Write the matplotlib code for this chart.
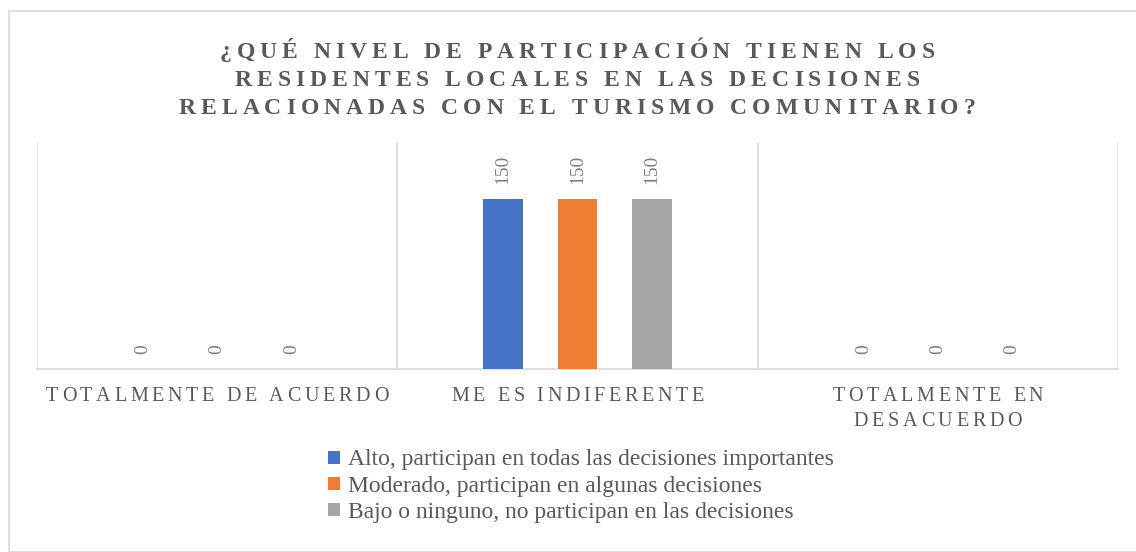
import matplotlib
matplotlib.use("Agg")
import matplotlib.pyplot as plt
from matplotlib.patches import Rectangle
from matplotlib.font_manager import FontProperties
import numpy as np

plt.rcParams['font.family'] = ['Liberation Serif', 'DejaVu Serif']

title_lines = ["¿QUÉ NIVEL DE PARTICIPACIÓN TIENEN LOS",
               "RESIDENTES LOCALES EN LAS DECISIONES",
               "RELACIONADAS CON EL TURISMO COMUNITARIO?"]
categories = ["TOTALMENTE DE ACUERDO", "ME ES INDIFERENTE", "TOTALMENTE EN\nDESACUERDO"]
series_names = ["Alto, participan en todas las decisiones importantes",
                "Moderado, participan en algunas decisiones",
                "Bajo o ninguno, no participan en las decisiones"]
alto = [0, 150, 0]
moderado = [0, 150, 0]
bajo = [0, 150, 0]
colors = ["#4472C4", "#ED7D31", "#A5A5A5"]

W, H = 1136, 552
fig = plt.figure(figsize=(W / 100, H / 100), dpi=100)
fig.patch.set_facecolor("white")
fig.patches.append(Rectangle((9 / W, 0), (W - 9) / W + 0.01, (H - 11) / H,
                             transform=fig.transFigure, fill=False,
                             edgecolor="#D9D9D9", linewidth=1.2))
renderer = fig.canvas.get_renderer()
text_color = "#595959"


def spaced_text(s, xc_px, base_px, size, spacing_px, weight="normal"):
    """Draw letter-spaced text centred at xc_px with baseline at base_px (pixels from top)."""
    fp = FontProperties(family="Liberation Serif", size=size, weight=weight)
    widths = [renderer.get_text_width_height_descent(c, fp, ismath=False)[0] for c in s]
    total = sum(widths) + spacing_px * (len(s) - 1)
    xp = xc_px - total / 2
    for c, w in zip(s, widths):
        fig.text(xp / W, 1 - base_px / H, c, fontproperties=fp, ha="left",
                 va="baseline", color=text_color)
        xp += w + spacing_px


ax = fig.add_axes([37 / W, 1 - 369 / H, (1118 - 37) / W, (369 - 143) / H])
x = np.arange(len(categories))
width = 0.111
step = 0.2064
for i, (vals, name, c) in enumerate(zip([alto, moderado, bajo], series_names, colors)):
    pos = x + (i - 1) * step
    ax.bar(pos, vals, width, color=c, label=name, zorder=3)
    for xp, v in zip(pos, vals):
        ax.annotate(str(v), (xp, v), xytext=(0, 11), textcoords="offset points",
                    rotation=90, ha="center", va="bottom", fontsize=14,
                    color="#7F7F7F")

ax.set_xlim(-0.5, 2.5)
ax.set_ylim(0, 200)
ax.set_yticks([])
for b in [-0.5, 0.5, 1.5, 2.5]:
    ax.axvline(b, color="#D9D9D9", linewidth=1.2, zorder=1)
for s in ["top", "right", "left"]:
    ax.spines[s].set_visible(False)
ax.spines["bottom"].set_color("#D9D9D9")
ax.spines["bottom"].set_linewidth(1.2)
ax.set_xticks(x)
ax.set_xticklabels([""] * len(categories))
ax.tick_params(axis="x", length=0)

# category labels (letter-spaced)
fig.canvas.draw()
for xi, cat in zip(x, categories):
    xc_px = ax.transData.transform((xi, 0))[0]
    for k, line in enumerate(cat.split("\n")):
        spaced_text(line, xc_px, 401 + 25 * k, 14.5, 3.7)

# title (letter-spaced, bold)
for k, line in enumerate(title_lines):
    spaced_text(line, 577, 57.5 + 28 * k, 17, 5.0, weight="bold")

leg = fig.legend(loc="upper left", bbox_to_anchor=(319 / W, 1 - 440 / H),
                 frameon=False, fontsize=17, handlelength=0.47, handleheight=0.47,
                 handletextpad=0.34, labelspacing=0.22, borderaxespad=0,
                 labelcolor=text_color)

fig.savefig("out.png", dpi=100)
